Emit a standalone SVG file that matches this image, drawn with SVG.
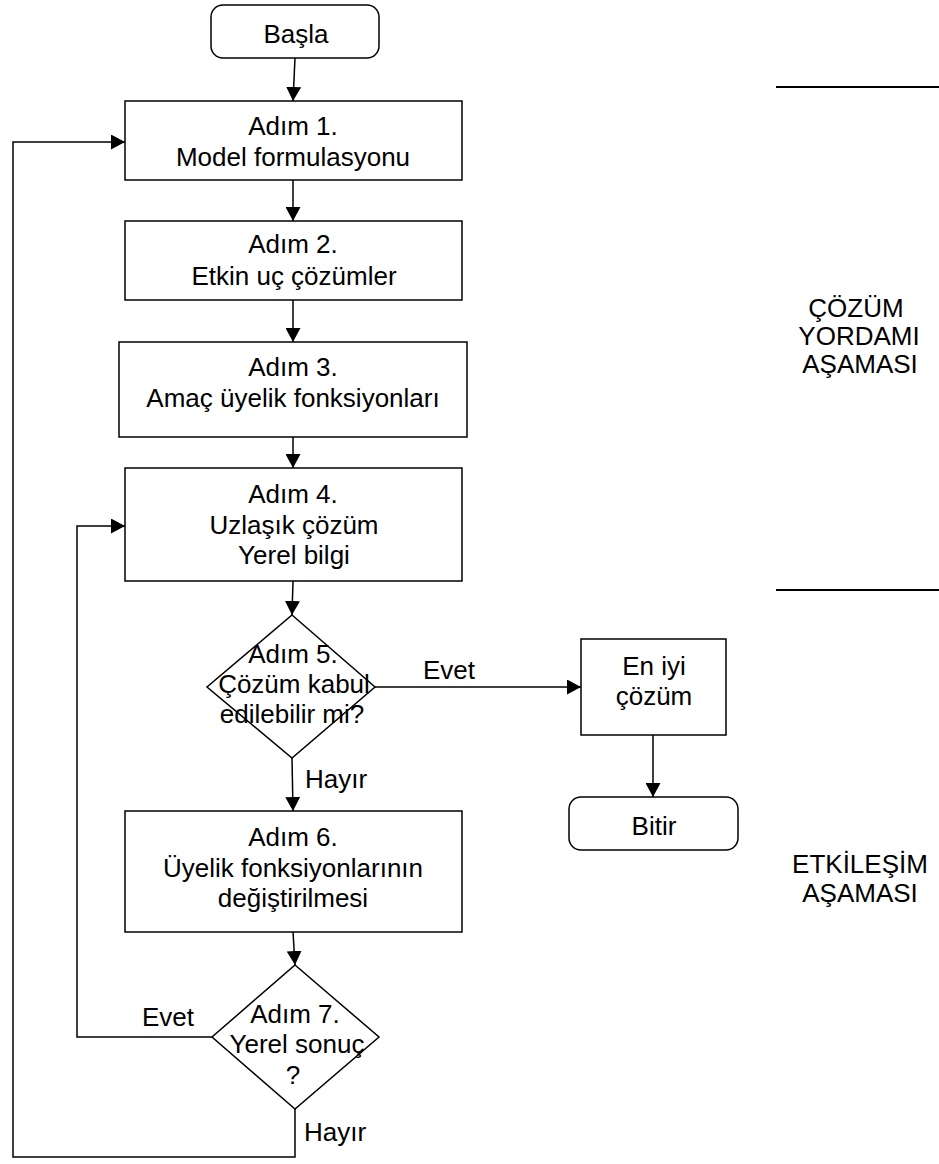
<svg xmlns="http://www.w3.org/2000/svg" width="939" height="1164" viewBox="0 0 939 1164">
  <style>
    .shape { fill: #ffffff; stroke: #000000; stroke-width: 1.5; }
    .wire { fill: none; stroke: #000000; stroke-width: 1.5; }
    .rule { fill: none; stroke: #000000; stroke-width: 2.2; }
    text { font-family: "Liberation Sans", Arial, sans-serif; fill: #000000; font-size: 26px; }
    .t { text-anchor: middle; }
    .lbl { text-anchor: start; }
    .side { text-anchor: middle; }
  </style>
  <defs>
    <marker id="arrow" viewBox="0 0 14 15" refX="14" refY="7.5" markerWidth="14" markerHeight="15" markerUnits="userSpaceOnUse" orient="auto">
      <path d="M0,0 L14,7.5 L0,15 Z" fill="#000000"/>
    </marker>
  </defs>

  <!-- connectors -->
  <g id="connectors">
    <path class="wire" d="M295,58 L293,101" marker-end="url(#arrow)"/>
    <path class="wire" d="M293,180 L293,221" marker-end="url(#arrow)"/>
    <path class="wire" d="M293,300 L293,342" marker-end="url(#arrow)"/>
    <path class="wire" d="M293,437 L293,468" marker-end="url(#arrow)"/>
    <path class="wire" d="M293,581 L292,615" marker-end="url(#arrow)"/>
    <path class="wire" d="M375,687 L581,687" marker-end="url(#arrow)"/>
    <path class="wire" d="M292,758 L293,811" marker-end="url(#arrow)"/>
    <path class="wire" d="M293,932 L295,965" marker-end="url(#arrow)"/>
    <path class="wire" d="M653,735 L653,797" marker-end="url(#arrow)"/>
    <path class="wire" d="M212,1037 L77,1037 L77,526 L125,526" marker-end="url(#arrow)"/>
    <path class="wire" d="M295,1109 L295,1157 L13,1157 L13,142 L125,142" marker-end="url(#arrow)"/>
    <text class="lbl" x="423" y="679">Evet</text>
    <text class="lbl" x="305" y="788">Hayır</text>
    <text class="lbl" x="142" y="1026">Evet</text>
    <text class="lbl" x="304" y="1141">Hayır</text>
  </g>

  <!-- start -->
  <g id="start">
    <rect class="shape" x="211" y="5" width="168" height="53" rx="12" ry="12"/>
    <text class="t" x="296" y="43">Başla</text>
  </g>

  <g id="step1">
    <rect class="shape" x="125" y="101" width="337" height="79"/>
    <text class="t" x="293" y="135">Adım 1.</text>
    <text class="t" x="293" y="166">Model formulasyonu</text>
  </g>

  <g id="step2">
    <rect class="shape" x="125" y="221" width="337" height="79"/>
    <text class="t" x="293" y="253">Adım 2.</text>
    <text class="t" x="294" y="285">Etkin uç çözümler</text>
  </g>

  <g id="step3">
    <rect class="shape" x="119" y="342" width="348" height="95"/>
    <text class="t" x="293" y="376">Adım 3.</text>
    <text class="t" x="293" y="407">Amaç üyelik fonksiyonları</text>
  </g>

  <g id="step4">
    <rect class="shape" x="125" y="468" width="337" height="113"/>
    <text class="t" x="293" y="503">Adım 4.</text>
    <text class="t" x="294" y="534">Uzlaşık çözüm</text>
    <text class="t" x="294" y="564">Yerel bilgi</text>
  </g>

  <g id="step5">
    <polygon class="shape" points="292,615 375,687 292,758 207,687"/>
    <text class="t" x="293" y="663">Adım 5.</text>
    <text class="t" x="294" y="693">Çözüm kabul</text>
    <text class="t" x="292" y="723">edilebilir mi?</text>
  </g>

  <g id="best">
    <rect class="shape" x="581" y="639" width="145" height="96"/>
    <text class="t" x="654" y="675">En iyi</text>
    <text class="t" x="654" y="705">çözüm</text>
  </g>

  <g id="end">
    <rect class="shape" x="569" y="797" width="169" height="53" rx="12" ry="12"/>
    <text class="t" x="654" y="835">Bitir</text>
  </g>

  <g id="step6">
    <rect class="shape" x="125" y="811" width="337" height="121"/>
    <text class="t" x="293" y="846">Adım 6.</text>
    <text class="t" x="293" y="877">Üyelik fonksiyonlarının</text>
    <text class="t" x="293" y="907">değiştirilmesi</text>
  </g>

  <g id="step7">
    <polygon class="shape" points="295,965 379,1037 295,1109 212,1037"/>
    <text class="t" x="295" y="1023">Adım 7.</text>
    <text class="t" x="297" y="1053">Yerel sonuç</text>
    <text class="t" x="293" y="1084">?</text>
  </g>

  <!-- phase markers on the right -->
  <g id="phases">
    <line class="rule" x1="776" y1="87" x2="939" y2="87"/>
    <line class="rule" x1="776" y1="590" x2="939" y2="590"/>
    <text class="side" x="856" y="317">ÇÖZÜM</text>
    <text class="side" x="859" y="345">YORDAMI</text>
    <text class="side" x="860" y="373">AŞAMASI</text>
    <text class="side" x="860" y="873">ETKİLEŞİM</text>
    <text class="side" x="860" y="902">AŞAMASI</text>
  </g>
</svg>
